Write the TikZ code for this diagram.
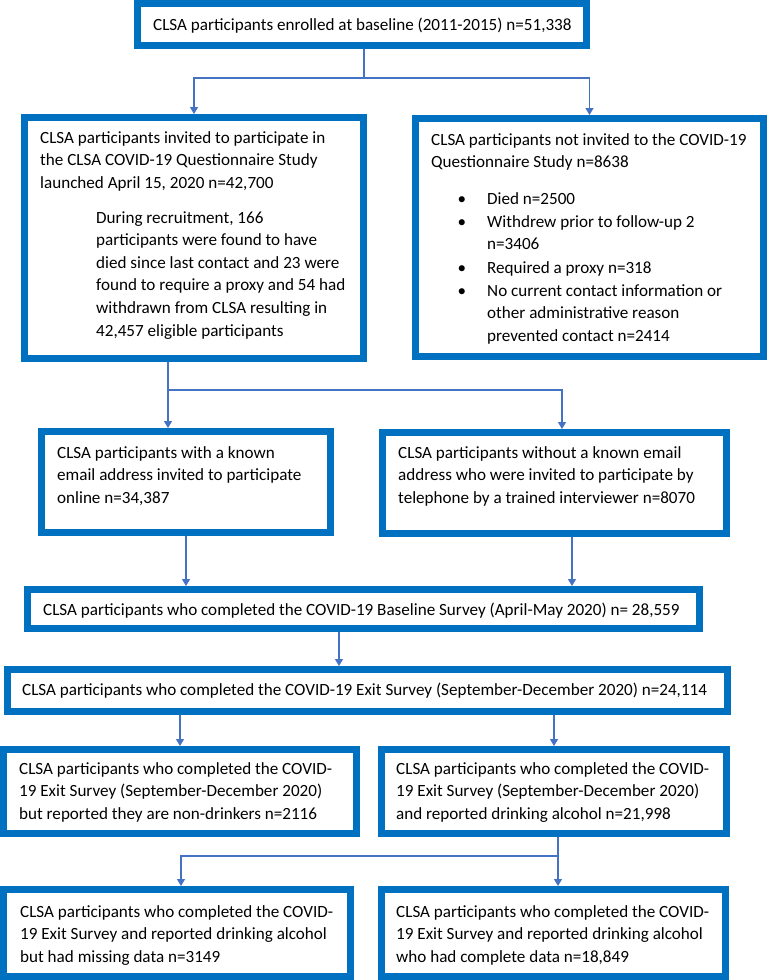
\documentclass[tikz,border=0pt]{standalone}
\usepackage{fontspec}
\setmainfont{Carlito}
\usetikzlibrary{arrows.meta}
\definecolor{framec}{RGB}{0,112,192}
\definecolor{connc}{RGB}{68,114,196}
\newcommand\fs{\fontsize{17.1}{22.6}\selectfont}
\newcommand\mlines[1]{\begin{minipage}[t]{360pt}#1\end{minipage}}
\begin{document}
\begin{tikzpicture}[x=1pt,y=-1pt,
  fbox/.style={draw=framec, line width=7pt, fill=white, inner sep=0pt},
  conn/.style={draw=connc, line width=1.2pt, -{Triangle[length=7pt,width=8pt]}},
  txt/.style={anchor=base west, inner sep=0pt, font=\fs},
  bul/.style={anchor=base, inner sep=0pt, font=\fs}]
\useasboundingbox (0,0) rectangle (769,980);
% boxes
\node[fbox, minimum width=449pt, minimum height=42pt] (b1) at (362,24.5) {};
\node[fbox, minimum width=339pt, minimum height=241pt] (b2) at (194,238) {};
\node[fbox, minimum width=348pt, minimum height=238pt] (b3) at (589.5,237.5) {};
\node[fbox, minimum width=289pt, minimum height=101pt] (b4) at (186,482) {};
\node[fbox, minimum width=344pt, minimum height=101pt] (b5) at (554.5,483) {};
\node[fbox, minimum width=672pt, minimum height=39pt] (b6) at (363.5,609) {};
\node[fbox, minimum width=720pt, minimum height=42pt] (b7) at (367.5,690.5) {};
\node[fbox, minimum width=353pt, minimum height=84pt] (b8) at (180,791.5) {};
\node[fbox, minimum width=345pt, minimum height=84pt] (b9) at (554,791.5) {};
\node[fbox, minimum width=347pt, minimum height=87pt] (b10) at (177,933) {};
\node[fbox, minimum width=344pt, minimum height=87pt] (b11) at (553.5,933) {};
% texts
\node[txt] (t1) at (153,30) {CLSA participants enrolled at baseline (2011-2015) n=51,338};
\node[txt] (t2a) at (40,143) {\mlines{CLSA participants invited to participate in\\the CLSA COVID-19 Questionnaire Study\\launched April 15, 2020 n=42,700}};
\node[txt] (t2b) at (96,223) {\mlines{During recruitment, 166\\participants were found to have\\died since last contact and 23 were\\found to require a proxy and 54 had\\withdrawn from CLSA resulting in\\42,457 eligible participants}};
\node[txt] (t3a) at (431,145) {\mlines{CLSA participants not invited to the COVID-19\\Questionnaire Study n=8638}};
\node[bul] (u1) at (462,204) {•};
\node[txt] (i1) at (487,204) {Died n=2500};
\node[bul] (u2) at (462,227) {•};
\node[txt] (i2) at (487,227) {\mlines{Withdrew prior to follow-up 2\\n=3406}};
\node[bul] (u3) at (462,273) {•};
\node[txt] (i3) at (487,273) {Required a proxy n=318};
\node[bul] (u4) at (462,296) {•};
\node[txt] (i4) at (487,296) {\mlines{No current contact information or\\other administrative reason\\prevented contact n=2414}};
\node[txt] (t4) at (57,458) {\mlines{CLSA participants with a known\\email address invited to participate\\online n=34,387}};
\node[txt] (t5) at (398,458) {\mlines{CLSA participants without a known email\\address who were invited to participate by\\telephone by a trained interviewer n=8070}};
\node[txt] (t6) at (43,615) {CLSA participants who completed the COVID-19 Baseline Survey (April-May 2020) n= 28,559};
\node[txt] (t7) at (22,695) {CLSA participants who completed the COVID-19 Exit Survey (September-December 2020) n=24,114};
\node[txt] (t8) at (19,774) {\mlines{CLSA participants who completed the COVID-\\19 Exit Survey (September-December 2020)\\but reported they are non-drinkers n=2116}};
\node[txt] (t9) at (396,774) {\mlines{CLSA participants who completed the COVID-\\19 Exit Survey (September-December 2020)\\and reported drinking alcohol n=21,998}};
\node[txt] (t10) at (20,917) {\mlines{CLSA participants who completed the COVID-\\19 Exit Survey and reported drinking alcohol\\but had missing data n=3149}};
\node[txt] (t11) at (396,917) {\mlines{CLSA participants who completed the COVID-\\19 Exit Survey and reported drinking alcohol\\who had complete data n=18,849}};
% connectors
\coordinate (j1) at (364,78);
\draw[conn] (b1.south -| j1) -- (j1) -| (b2.north);
\draw[conn] (j1) -| (b3.north);
\coordinate (j2) at (168,390);
\coordinate (j2r) at (562,390);
\draw[conn] (b2.south -| j2) -- (b4.north -| j2);
\draw[conn] (j2) -- (j2r) -- (b5.north -| j2r);
\coordinate (j3) at (572,560);
\draw[conn] (b4.south) -- (b6.north -| b4.south);
\draw[conn] (b5.south -| j3) -- (b6.north -| j3);
\coordinate (j4) at (339,650);
\draw[conn] (b6.south -| j4) -- (b7.north -| j4);
\draw[conn] (b7.south -| b8.north) -- (b8.north);
\draw[conn] (b7.south -| b9.north) -- (b9.north);
\coordinate (j6) at (558,856);
\coordinate (j6l) at (181,856);
\draw[conn] (b9.south -| j6) -- (j6) -- (j6l) -- (b10.north -| j6l);
\draw[conn] (j6) -- (b11.north -| j6);
\end{tikzpicture}
\end{document}
